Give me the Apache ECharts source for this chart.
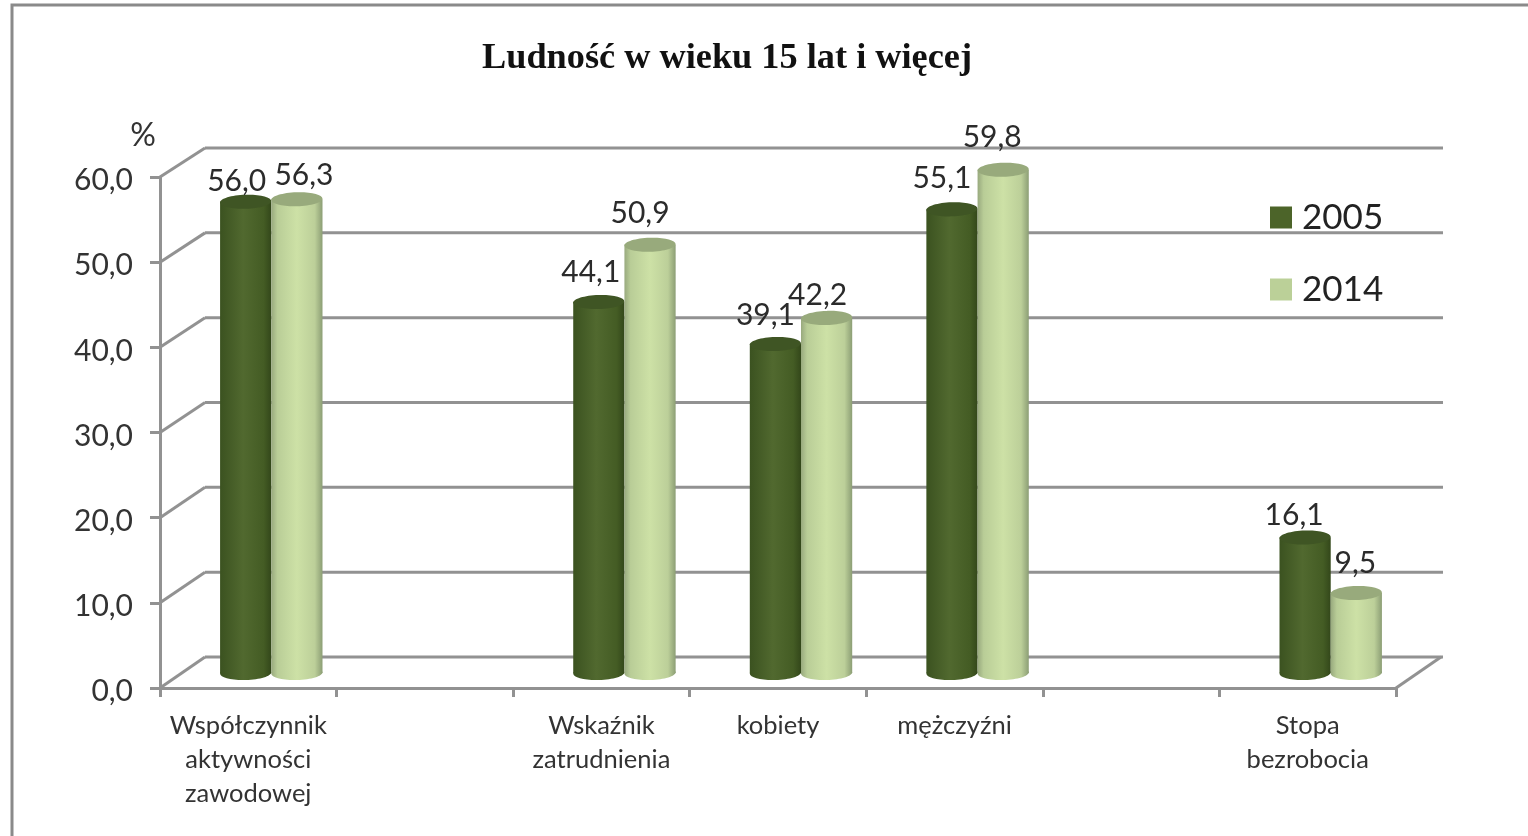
<!DOCTYPE html>
<html>
<head>
<meta charset="utf-8">
<title>Ludność w wieku 15 lat i więcej</title>
<script src="https://cdn.jsdelivr.net/npm/echarts@6/dist/echarts.min.js"></script>
<style>
  html, body { margin: 0; padding: 0; background: #fff; }
  #main { width: 1528px; height: 836px; }
</style>
</head>
<body>
<div id="main"></div>
<script>
var categories = ['Współczynnik\naktywności\nzawodowej', '', 'Wskaźnik\nzatrudnienia', 'kobiety', 'mężczyźni', '', 'Stopa\nbezrobocia'];
var values2005 = [56.0, null, 44.1, 39.1, 55.1, null, 16.1];
var values2014 = [56.3, null, 50.9, 42.2, 59.8, null, 9.5];
var yTicks = [0, 10, 20, 30, 40, 50, 60];

// recznie przesuniete etykiety, jak w oryginale [dx, dy] od srodka wieczka
var labelShift2005 = [[-9, -20], null, [-8, -30], [-10, -29], [-10, -31], null, [-11, -22]];
var labelShift2014 = [[7, -24], null, [-10, -31], [-9, -23], [-11, -32], null, [-1, -30]];

var FONT = 'Lato';
var GRAY = '#929292';
var DEPTH_X = 45, DEPTH_Y = 31;   // przesuniecie tylnej sciany
var WALL_SCALE = 0.996, BAR_SCALE = 0.988;
var BAR_SHIFT = 23, BAR_BAND = 0.29, CAP_RY = 7, CAP_TILT = 0.03;

var darkSide = [
  { offset: 0, color: '#3b5220' }, { offset: 0.45, color: '#51692f' },
  { offset: 0.85, color: '#445c24' }, { offset: 1, color: '#33471a' }
];
var lightSide = [
  { offset: 0, color: '#98a97e' }, { offset: 0.12, color: '#b9cd97' },
  { offset: 0.5, color: '#cde1a6' }, { offset: 0.85, color: '#bccf99' }, { offset: 1, color: '#8c9e75' }
];

function cylinder(shifts, sideStops, capColor, dir) {
  return function (params, api) {
    if (api.value(1) == null || isNaN(api.value(1))) return;
    var idx = api.value(0), val = api.value(1);
    var band = api.size([1, 0])[0];
    var w = band * BAR_BAND;
    var base = api.coord([idx, 0]);
    var top = api.coord([idx, val]);
    var cx = base[0] + BAR_SHIFT + dir * w / 2;
    var y0 = base[1] - 15, y1 = y0 + (top[1] - base[1]) * BAR_SCALE;
    var side = new echarts.graphic.LinearGradient(0, 0, 1, 0, sideStops);
    var sh = shifts[idx];
    return {
      type: 'group',
      children: [
        { type: 'ellipse', rotation: CAP_TILT, originX: cx, originY: y0,
          shape: { cx: cx, cy: y0, rx: w / 2, ry: CAP_RY }, style: { fill: side } },
        { type: 'rect', shape: { x: cx - w / 2, y: y1, width: w, height: y0 - y1 }, style: { fill: side } },
        { type: 'ellipse', rotation: CAP_TILT, originX: cx, originY: y1,
          shape: { cx: cx, cy: y1, rx: w / 2, ry: CAP_RY }, style: { fill: capColor } },
        { type: 'text', z2: 10, style: {
            x: cx + sh[0], y: y1 + sh[1], text: val.toFixed(1).replace('.', ','),
            font: '30px ' + FONT, fill: '#2b2b2b', align: 'center', verticalAlign: 'middle'
        } }
      ]
    };
  };
}

function wall(params, api) {
  var val = api.value(0);
  var a = api.coord([0, val]);
  var zero = api.coord([0, 0]);
  var band = api.size([1, 0])[0];
  var left = a[0] - band / 2;
  var right = left + band * categories.length;
  var y = a[1];
  var yBack = zero[1] - DEPTH_Y + (y - zero[1]) * WALL_SCALE;
  var style = { stroke: GRAY, lineWidth: 3 };
  var kids = [
    { type: 'line', shape: { x1: left, y1: y, x2: left + DEPTH_X, y2: yBack }, style: style },
    { type: 'line', shape: { x1: left + DEPTH_X, y1: yBack, x2: right + DEPTH_X + 2, y2: yBack }, style: style }
  ];
  if (val === 0) {
    kids.push({ type: 'line', shape: { x1: right, y1: y, x2: right + DEPTH_X, y2: yBack }, style: style });
  }
  return { type: 'group', children: kids };
}

function pairs(arr) {
  return arr.map(function (v, i) { return [i, v]; });
}

var chart = echarts.init(document.getElementById('main'), null, { renderer: 'canvas' });
chart.setOption({
  animation: false,
  backgroundColor: '#fff',
  title: {
    text: 'Ludność w wieku 15 lat i więcej',
    left: 477, top: 36,
    textStyle: { fontFamily: 'Liberation Serif', fontWeight: 'bold', fontSize: 36.3, color: '#111' }
  },
  legend: {
    data: ['2005', '2014'],
    orient: 'vertical',
    left: 1265, top: 195,
    icon: 'rect',
    itemWidth: 22, itemHeight: 22, itemGap: 37,
    textStyle: { fontFamily: FONT, fontSize: 35, color: '#222', padding: [0, 0, 0, 5] }
  },
  grid: { left: 160, right: 132, top: 177, bottom: 148 },
  xAxis: {
    type: 'category',
    data: categories,
    axisLine: { lineStyle: { color: GRAY, width: 3 } },
    axisTick: { show: true, length: 9, alignWithLabel: false, lineStyle: { color: GRAY, width: 3 } },
    axisLabel: { interval: 0, margin: 21, fontFamily: FONT, fontSize: 25.5, lineHeight: 34, color: '#333' },
    splitLine: { show: false }
  },
  yAxis: {
    type: 'value',
    min: 0, max: 60, interval: 10,
    name: '%',
    nameLocation: 'end',
    nameGap: 25,
    nameTextStyle: { fontFamily: FONT, fontSize: 32, color: '#333', align: 'center', padding: [0, 34, 0, 0] },
    axisLine: { show: true, lineStyle: { color: GRAY, width: 3 } },
    axisTick: { show: true, length: 10, lineStyle: { color: GRAY, width: 3 } },
    axisLabel: {
      margin: 27, color: '#333',
      formatter: function (v) { return '{t|' + v.toFixed(1).replace('.', ',') + '}'; },
      rich: { t: { fontFamily: FONT, fontSize: 30, color: '#333', padding: [7, 0, 0, 0] } }
    },
    splitLine: { show: false }
  },
  graphic: [{
    type: 'polyline', silent: true, z: -1,
    shape: { points: [[12, 836], [12, 5], [1528, 5]] },
    style: { fill: 'none', stroke: '#8a8a8a', lineWidth: 3 }
  }],
  series: [
    { name: 'wall', type: 'custom', z: 1, silent: true, coordinateSystem: 'cartesian2d',
      data: yTicks.map(function (t) { return [t]; }), encode: { y: 0 }, renderItem: wall },
    { name: '2005', type: 'custom', z: 2, coordinateSystem: 'cartesian2d', itemStyle: { color: '#4c6429' },
      data: pairs(values2005), encode: { x: 0, y: 1 }, renderItem: cylinder(labelShift2005, darkSide, '#3f5524', -1) },
    { name: '2014', type: 'custom', z: 3, coordinateSystem: 'cartesian2d', itemStyle: { color: '#bbd098' },
      data: pairs(values2014), encode: { x: 0, y: 1 }, renderItem: cylinder(labelShift2014, lightSide, '#98aa7c', 1) }
  ]
});
</script>
</body>
</html>
